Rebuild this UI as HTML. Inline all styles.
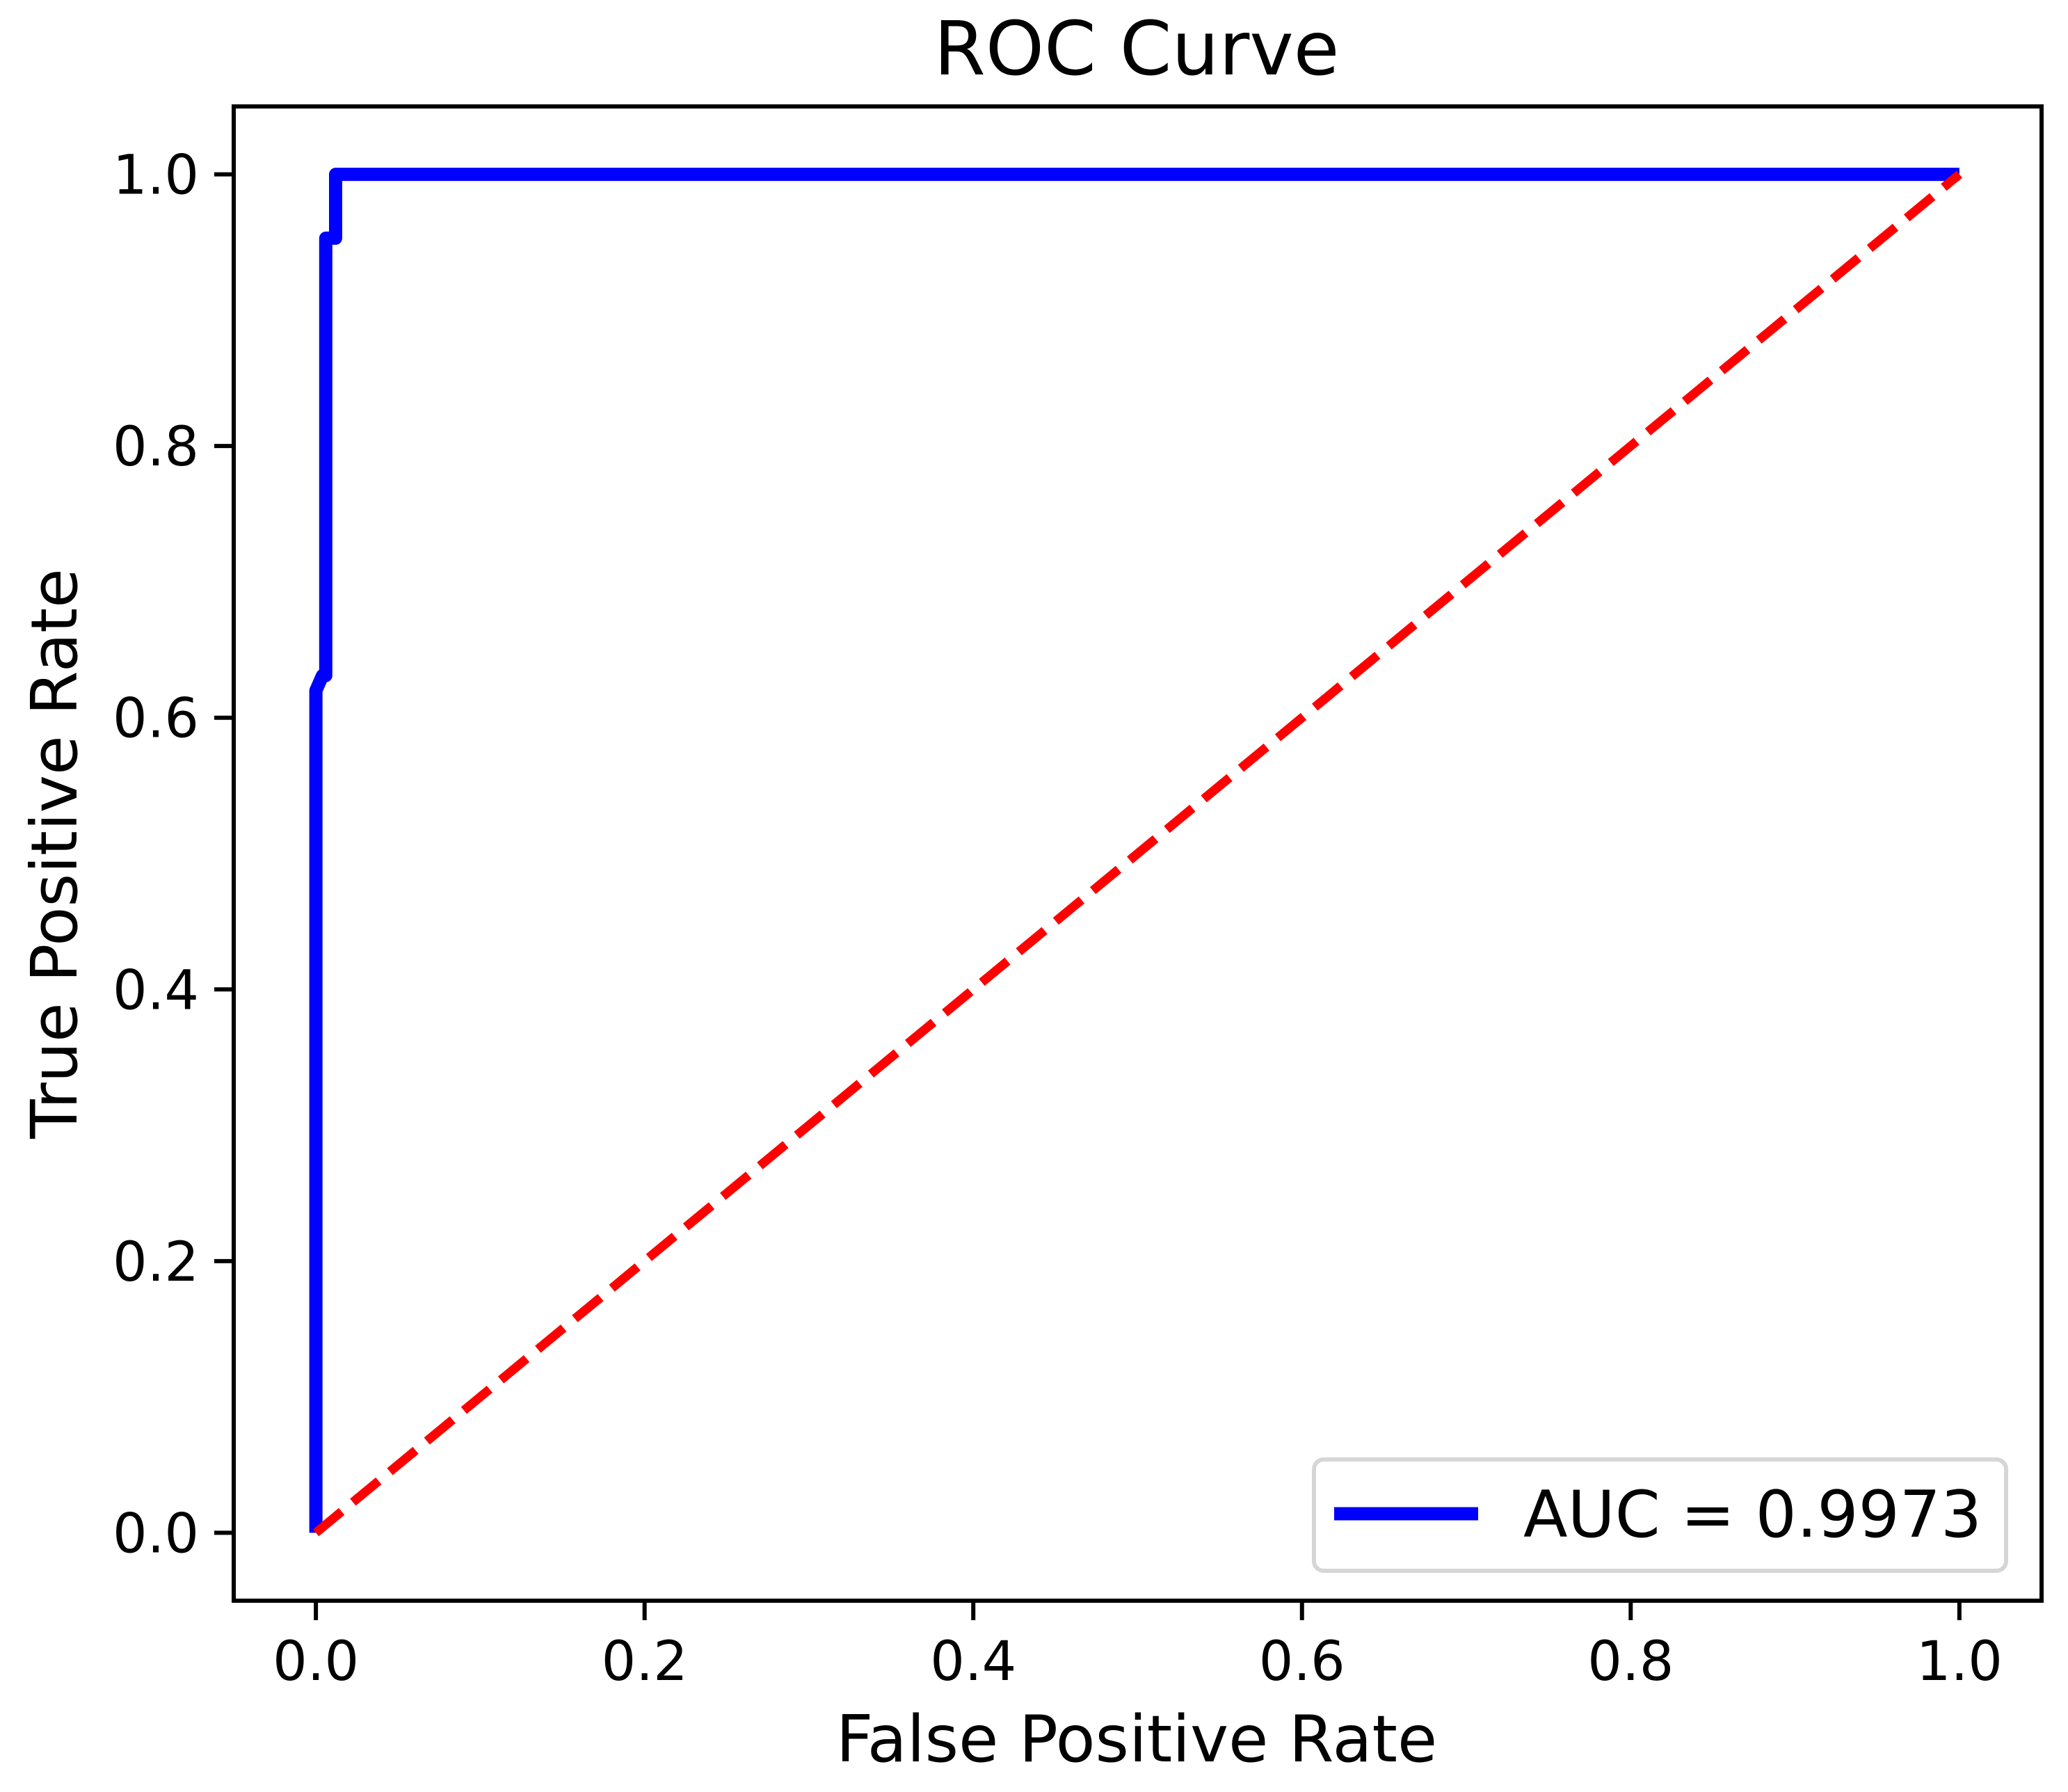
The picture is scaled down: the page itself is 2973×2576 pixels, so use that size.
<!DOCTYPE html>
<html><head><meta charset="utf-8"><style>
html,body{margin:0;padding:0;background:#fff;}
svg{display:block;font-family:"DejaVu Sans","Liberation Sans",sans-serif;}
</style></head><body>
<svg id="chart" width="2973" height="2576" viewBox="0 0 2973 2576" xmlns="http://www.w3.org/2000/svg">
<rect width="2973" height="2576" fill="#fff"/>
<text x="1634" y="107" font-size="107" text-anchor="middle">ROC Curve</text>
<g id="plot"></g>
<text x="1634" y="2532" font-size="93" text-anchor="middle">False Positive Rate</text>
<text x="110" y="1227" font-size="92" text-anchor="middle" transform="rotate(-90 110 1227)">True Positive Rate</text>
</svg>
<script>
const fprValues = [0, 0, 0.004, 0.006, 0.006, 0.012, 0.012, 1.0];
const tprValues = [0, 0.62, 0.631, 0.631, 0.953, 0.953, 1.0, 1.0];
const diagX = [0, 1];
const diagY = [0, 1];
const xTicks = [0, 0.2, 0.4, 0.6, 0.8, 1.0];
const yTicks = [0, 0.2, 0.4, 0.6, 0.8, 1.0];
const xTickLabels = ["0.0","0.2","0.4","0.6","0.8","1.0"];
const yTickLabels = ["0.0","0.2","0.4","0.6","0.8","1.0"];
const legendLabel = "AUC = 0.9973";

const NS = "http://www.w3.org/2000/svg";
const L = 336, R = 2935, T = 153, B = 2301;
const xMin = -0.05, xMax = 1.05, yMin = -0.05, yMax = 1.05;
function sx(v){ return L + (v - xMin) / (xMax - xMin) * (R - L); }
function sy(v){ return B - (v - yMin) / (yMax - yMin) * (B - T); }
const g = document.getElementById('plot');
function mk(tag, attrs){ const e = document.createElementNS(NS, tag); for (const k in attrs) e.setAttribute(k, attrs[k]); g.appendChild(e); return e; }

xTicks.forEach((v, i) => {
  const t = mk('line', {x1: sx(v), x2: sx(v), y1: B, y2: B + 28, stroke: '#000', 'stroke-width': 6});
  
  
  const lb = mk('text', {x: sx(v), y: 2415, 'font-size': 78, 'text-anchor': 'middle'});
  lb.textContent = xTickLabels[i];
  
  
});
yTicks.forEach((v, i) => {
  const t = mk('line', {x1: L - 28, x2: L, y1: sy(v), y2: sy(v), stroke: '#000', 'stroke-width': 6});
  
  
  const lb = mk('text', {x: L - 50, y: sy(v) + 28, 'font-size': 78, 'text-anchor': 'end'});
  lb.textContent = yTickLabels[i];
  
  
});

const roc = mk('polyline', {points: fprValues.map((x, i) => sx(x) + ',' + sy(tprValues[i])).join(' '), fill: 'none', stroke: '#0000ff', 'stroke-width': 19, 'stroke-linejoin': 'round'});



const dg = mk('line', {x1: sx(diagX[0]), y1: sy(diagY[0]), x2: sx(diagX[1]), y2: sy(diagY[1]), stroke: '#ff0000', 'stroke-width': 13, 'stroke-dasharray': '48 21'});



const fr = mk('rect', {x: L, y: T, width: R - L, height: B - T, fill: 'none', stroke: '#000', 'stroke-width': 6});



const lg = mk('rect', {x: 1889, y: 2098, width: 995, height: 160, rx: 14, fill: '#fff', stroke: '#d6d6d6', 'stroke-width': 6});


const ll = mk('line', {x1: 1918, x2: 2125, y1: 2176, y2: 2176, stroke: '#0000ff', 'stroke-width': 19});


const lt = mk('text', {x: 2190, y: 2209, 'font-size': 93});
lt.textContent = legendLabel;


</script>
</body></html>
